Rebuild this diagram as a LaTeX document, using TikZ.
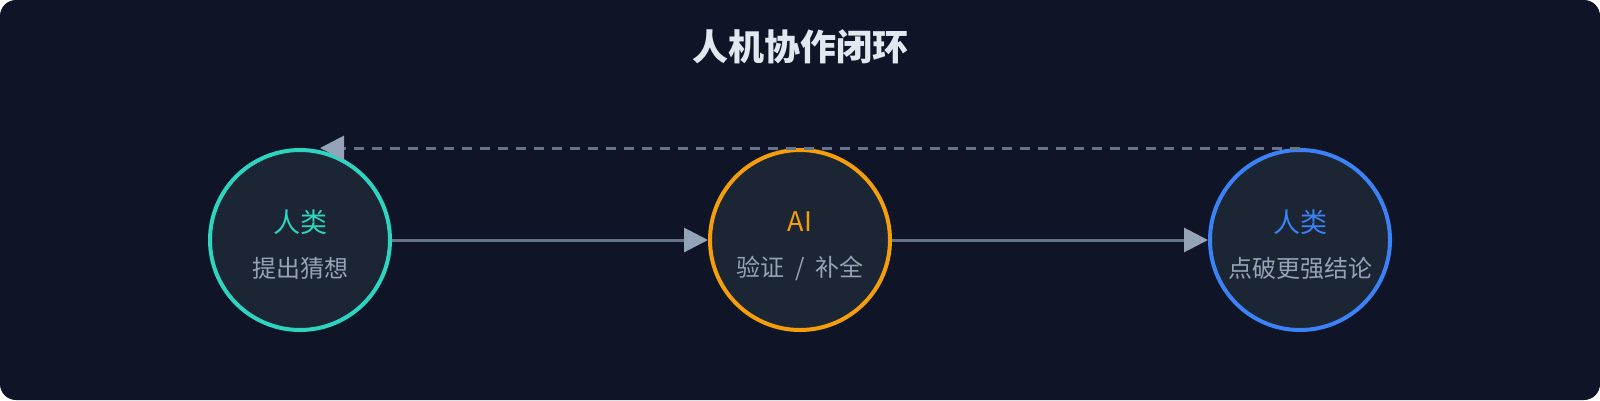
\documentclass[tikz,border=0pt]{standalone}
\usepackage{fontspec}
\setmainfont{Noto Sans CJK SC}
\usepackage{xcolor}
\usetikzlibrary{arrows.meta, positioning}

\definecolor{pagebg}{HTML}{0F1526}
\definecolor{nodebg}{HTML}{1C2533}
\definecolor{humancol}{HTML}{2DD4BF}
\definecolor{aicol}{HTML}{F59E0B}
\definecolor{strongcol}{HTML}{3B82F6}
\definecolor{subcol}{HTML}{94A3B8}
\definecolor{linecol}{HTML}{64748B}
\definecolor{titlecol}{HTML}{E2E8F0}

\begin{document}
\begin{tikzpicture}[
        x=1pt, y=1pt,
        agent/.style={circle, draw, line width=4pt, fill=nodebg, minimum size=180pt, inner sep=0pt},
        role/.style={font=\fontsize{27}{30}\selectfont, inner sep=0pt},
        task/.style={font=\fontsize{24}{28}\selectfont, text=subcol, inner sep=0pt},
        flow/.style={-{Triangle[length=24pt, width=24pt, color=subcol]}, line width=3pt, draw=linecol},
        back/.style={-{Triangle[length=24pt, width=24pt, color=subcol]}, line width=3pt, draw=linecol, dash pattern=on 10pt off 8pt},
    ]
        % Background
        \fill[white] (0,0) rectangle (1600,-400);
        \fill[pagebg, rounded corners=16pt] (0,0) rectangle (1600,-400);
        \useasboundingbox (0,0) rectangle (1600,-400);

        % Title
        \node[font=\fontsize{36}{40}\bfseries, text=titlecol] (title) at (800,-47) {人机协作闭环};

        % Agents
        \node[agent, draw=humancol] (guess) at (300,-240) {};
        \node[agent, draw=aicol] (check) at (800,-240) {};
        \node[agent, draw=strongcol] (result) at (1300,-240) {};

        % Labels inside the circles
        \node[role, text=humancol] (guess-role) at ([yshift=18pt]guess.center) {人类};
        \node[task] (guess-task) at ([yshift=-28pt]guess.center) {提出猜想};
        \node[role, text=aicol] (check-role) at ([yshift=18pt]check.center) {AI};
        \node[task] (check-task) at ([yshift=-28pt]check.center) {验证\hspace{0.45em}/\hspace{0.45em}补全};
        \node[role, text=strongcol] (result-role) at ([yshift=18pt]result.center) {人类};
        \node[task] (result-task) at ([yshift=-28pt]result.center) {点破更强结论};

        % Arrows
        \draw[flow] (guess.east) -- (check.west);
        \draw[flow] (check.east) -- (result.west);
        \draw[back] (result.north) -- ([xshift=20pt]guess.north);
    \end{tikzpicture}
\end{document}
